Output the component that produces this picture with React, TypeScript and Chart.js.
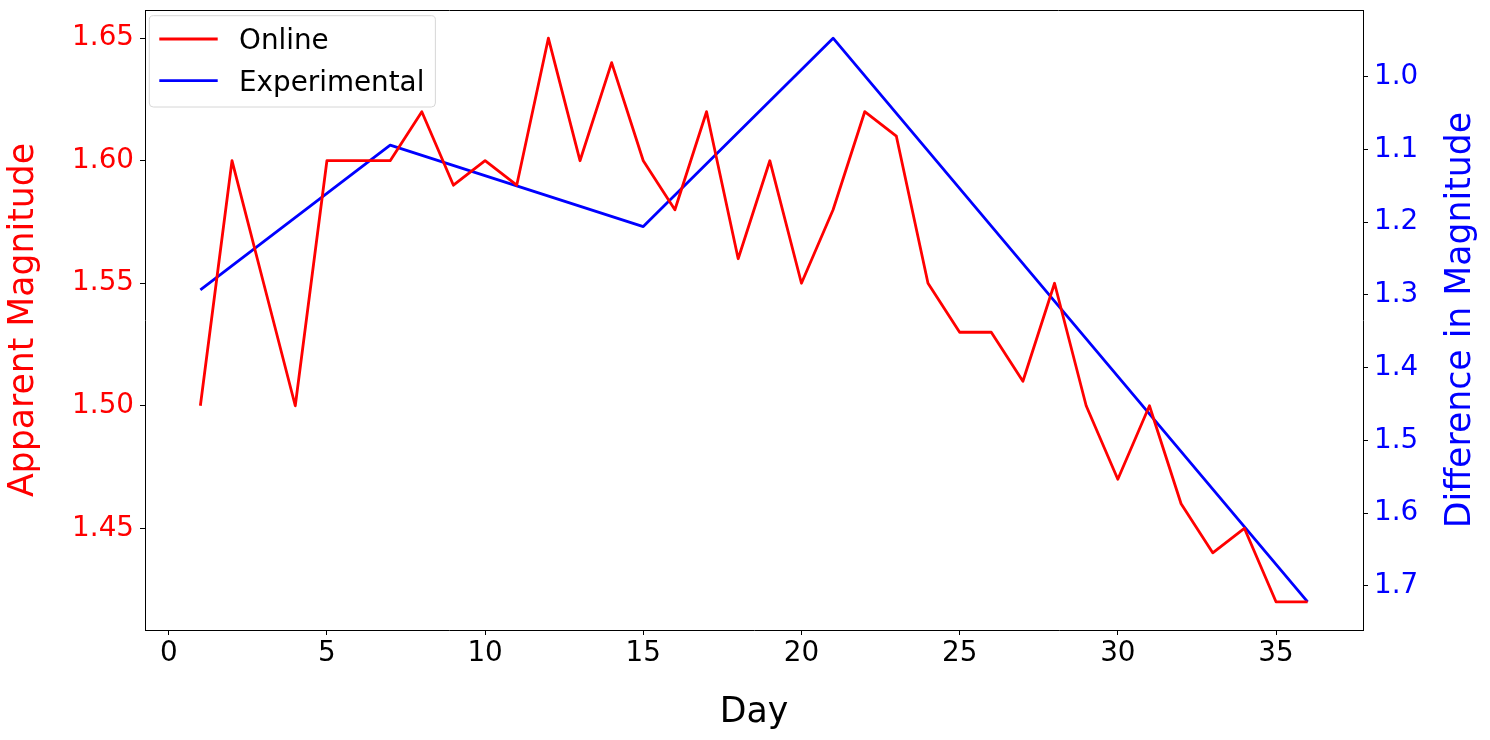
import React, { useEffect, useRef } from "react";
import { Chart, registerables } from "chart.js";

Chart.register(...registerables);

// ---- data ----
const days = [1, 2, 3, 4, 5, 6, 7, 8, 9, 10, 11, 12, 13, 14, 15, 16, 17, 18, 19, 20, 21, 22, 23, 24, 25, 26, 27, 28, 29, 30, 31, 32, 33, 34, 35, 36];
const onlineMagnitude = [1.5, 1.6, 1.55, 1.5, 1.6, 1.6, 1.6, 1.62, 1.59, 1.6, 1.59, 1.65, 1.6, 1.64, 1.6, 1.58, 1.62, 1.56, 1.6, 1.55, 1.58, 1.62, 1.61, 1.55, 1.53, 1.53, 1.51, 1.55, 1.5, 1.47, 1.5, 1.46, 1.44, 1.45, 1.42, 1.42];
const experimentalDays = [1, 7, 15, 21, 36];
const experimentalDifference = [1.293, 1.094, 1.206, 0.947, 1.722];
const seriesLabels = ["Online", "Experimental"];
const axisTitles = { x: "Day", left: "Apparent Magnitude", right: "Difference in Magnitude" };

const FONT = "'DejaVu Sans', sans-serif";
const TICK_SIZE = 27.8;
const TITLE_SIZE = 34.7;

function paddedRange(values: number[]) {
  const lo = Math.min(...values);
  const hi = Math.max(...values);
  const m = (hi - lo) * 0.05;
  return [lo - m, hi + m];
}

const [xMin, xMax] = paddedRange([...days, ...experimentalDays]);
const [yMin, yMax] = paddedRange(onlineMagnitude);
const [y1Min, y1Max] = paddedRange(experimentalDifference);

const framePlugin = {
  id: "frameAndExtras",
  afterDraw(chart: any) {
    const { ctx, chartArea } = chart;
    const { left, right, top, bottom } = chartArea;
    ctx.save();
    // top spine
    ctx.strokeStyle = "#000";
    ctx.lineWidth = 1;
    ctx.beginPath();
    ctx.moveTo(left, top + 0.5);
    ctx.lineTo(right, top + 0.5);
    ctx.stroke();

    // right axis title (reads bottom to top)
    ctx.fillStyle = "#0000ff";
    ctx.font = `${TITLE_SIZE}px ${FONT}`;
    ctx.textAlign = "center";
    ctx.textBaseline = "middle";
    ctx.translate(right + 98.4, (top + bottom) / 2);
    ctx.rotate(-Math.PI / 2);
    ctx.fillText(axisTitles.right, 0, 0);
    ctx.restore();

    // legend
    ctx.save();
    ctx.font = `${TICK_SIZE}px ${FONT}`;
    const datasets = chart.data.datasets;
    let maxW = 0;
    datasets.forEach((d: any) => {
      maxW = Math.max(maxW, ctx.measureText(d.label).width);
    });
    const bx = left + 4.3;
    const by = top + 5.7;
    const handleX0 = bx + 10;
    const handleX1 = handleX0 + 58.4;
    const textX = bx + 89.7;
    const bw = textX - bx + maxW + 11;
    const rowH = 41.7;
    const bh = 91.3;
    const r = 4;
    ctx.beginPath();
    ctx.moveTo(bx + r, by);
    ctx.lineTo(bx + bw - r, by);
    ctx.quadraticCurveTo(bx + bw, by, bx + bw, by + r);
    ctx.lineTo(bx + bw, by + bh - r);
    ctx.quadraticCurveTo(bx + bw, by + bh, bx + bw - r, by + bh);
    ctx.lineTo(bx + r, by + bh);
    ctx.quadraticCurveTo(bx, by + bh, bx, by + bh - r);
    ctx.lineTo(bx, by + r);
    ctx.quadraticCurveTo(bx, by, bx + r, by);
    ctx.closePath();
    ctx.fillStyle = "rgba(255,255,255,0.8)";
    ctx.fill();
    ctx.strokeStyle = "#d6d6d6";
    ctx.lineWidth = 1;
    ctx.stroke();
    datasets.forEach((d: any, i: number) => {
      const ly = by + 23.3 + i * rowH;
      ctx.strokeStyle = d.borderColor;
      ctx.lineWidth = 2.8;
      ctx.beginPath();
      ctx.moveTo(handleX0, ly);
      ctx.lineTo(handleX1, ly);
      ctx.stroke();
      ctx.fillStyle = "#000";
      ctx.textAlign = "left";
      ctx.textBaseline = "alphabetic";
      ctx.fillText(d.label, textX, ly + 10);
    });
    ctx.restore();
  },
};

export default function App() {
  const canvasRef = useRef<HTMLCanvasElement | null>(null);

  useEffect(() => {
    const canvas = canvasRef.current;
    if (!canvas) return;
    const tickGrid = {
      display: true,
      drawOnChartArea: false,
      drawTicks: true,
      tickLength: 5,
      tickColor: "#000",
      tickWidth: 1,
    };
    const chart = new Chart(canvas, {
      type: "line",
      data: {
        datasets: [
          {
            label: seriesLabels[0],
            data: days.map((d, i) => ({ x: d, y: onlineMagnitude[i] })),
            borderColor: "#ff0000",
            backgroundColor: "#ff0000",
            borderWidth: 2.8,
            pointRadius: 0,
            tension: 0,
            borderJoinStyle: "round",
            xAxisID: "x",
            yAxisID: "y",
          },
          {
            label: seriesLabels[1],
            data: experimentalDays.map((d, i) => ({ x: d, y: experimentalDifference[i] })),
            borderColor: "#0000ff",
            backgroundColor: "#0000ff",
            borderWidth: 2.8,
            pointRadius: 0,
            tension: 0,
            borderJoinStyle: "round",
            xAxisID: "x",
            yAxisID: "y1",
          },
        ],
      },
      options: {
        responsive: false,
        animation: false,
        devicePixelRatio: 1,
        layout: { padding: { top: 10, left: 0, right: 0, bottom: 0 } },
        plugins: {
          legend: { display: false },
          tooltip: { enabled: false },
        },
        scales: {
          x: {
            type: "linear",
            position: "bottom",
            min: xMin,
            max: xMax,
            grid: tickGrid,
            border: { display: true, color: "#000", width: 1 },
            ticks: {
              stepSize: 5,
              includeBounds: false,
              color: "#000",
              font: { family: FONT, size: TICK_SIZE },
              padding: 2,
              maxRotation: 0,
              callback: (v: any) => String(v),
            },
            title: {
              display: true,
              text: axisTitles.x,
              color: "#000",
              font: { family: FONT, size: TITLE_SIZE },
              padding: { top: 0, bottom: 6.5 },
            },
            afterFit: (s: any) => {
              s.height = 110;
              s.paddingLeft = 0;
              s.paddingRight = 0;
            },
          },
          y: {
            type: "linear",
            position: "left",
            min: yMin,
            max: yMax,
            grid: tickGrid,
            border: { display: true, color: "#000", width: 1 },
            ticks: {
              stepSize: 0.05,
              includeBounds: false,
              color: "#ff0000",
              font: { family: FONT, size: TICK_SIZE },
              padding: 6,
              callback: (v: any) => Number(v).toFixed(2),
            },
            title: {
              display: true,
              text: axisTitles.left,
              color: "#ff0000",
              font: { family: FONT, size: TITLE_SIZE },
              padding: { top: 3.6, bottom: 0 },
            },
            afterFit: (s: any) => {
              s.width = 145;
              s.paddingTop = 0;
              s.paddingBottom = 0;
            },
          },
          y1: {
            type: "linear",
            position: "right",
            reverse: true,
            min: y1Min,
            max: y1Max,
            grid: tickGrid,
            border: { display: true, color: "#000", width: 1 },
            ticks: {
              stepSize: 0.1,
              includeBounds: false,
              color: "#0000ff",
              font: { family: FONT, size: TICK_SIZE },
              padding: 6,
              callback: (v: any) => Number(v).toFixed(1),
            },
            title: { display: false },
            afterFit: (s: any) => {
              s.width = 127;
              s.paddingTop = 0;
              s.paddingBottom = 0;
            },
          },
        },
      } as any,
      plugins: [framePlugin],
    });
    return () => chart.destroy();
  }, []);

  return (
    <div style={{ position: "absolute", left: 0, top: 0, width: 1490, height: 740, background: "#fff" }}>
      <canvas ref={canvasRef} width={1490} height={740} style={{ width: 1490, height: 740, display: "block" }} />
    </div>
  );
}
